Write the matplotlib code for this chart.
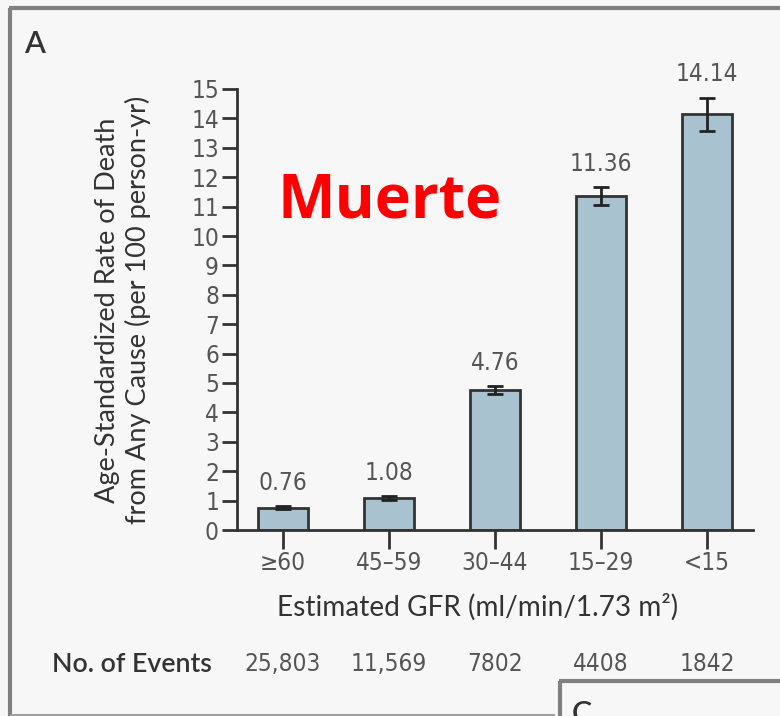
import matplotlib
matplotlib.use("Agg")
import matplotlib.pyplot as plt
from matplotlib import font_manager as fm
from matplotlib.font_manager import FontProperties
from matplotlib.lines import Line2D

# ---- data ----
gfr_groups = ["\u226560", "45\u201359", "30\u201344", "15\u201329", "<15"]
death_rate = [0.76, 1.08, 4.76, 11.36, 14.14]
rate_err = [0.05, 0.07, 0.13, 0.30, 0.57]
rate_labels = ["0.76", "1.08", "4.76", "11.36", "14.14"]
events = ["25,803", "11,569", "7802", "4408", "1842"]
y_ticks = list(range(0, 16))

# ---- fonts ----
def condensed_font():
    for f in fm.fontManager.ttflist:
        if f.fname.endswith("DejaVuSansCondensed.ttf"):
            return f.fname
    return None

cond_path = condensed_font()
if cond_path:
    num_font = FontProperties(fname=cond_path, size=17.5)
else:
    num_font = FontProperties(family="DejaVu Sans", size=15.5)

avail = {f.name for f in fm.fontManager.ttflist}
label_family = "Lato" if "Lato" in avail else "DejaVu Sans"


def bold_family(candidates):
    for name in candidates:
        for f in fm.fontManager.ttflist:
            w = f.weight if isinstance(f.weight, int) else 400
            if f.name == name and w >= 700 and f.style == "normal":
                return name
    return "DejaVu Sans"


title_family = bold_family(["Open Sans", "Noto Sans", "Lato", "Roboto"])
title_size = 44 if title_family != "DejaVu Sans" else 40

BG = "#f7f7f7"
DARK = "#333333"
GRAY = "#555555"
BAR = "#a9c2cf"

fig = plt.figure(figsize=(7.8, 7.16), dpi=100, facecolor=BG)
W, H = 780, 716


def fx(px):
    return px / W


def fy(py):
    return 1 - py / H


ax = fig.add_axes([fx(237), fy(530), fx(753) - fx(237), fy(89) - fy(530)])
ax.set_facecolor(BG)

x = list(range(len(gfr_groups)))
ax.bar(x, death_rate, width=0.47, color=BAR, edgecolor=DARK, linewidth=2.0, zorder=2)
ax.errorbar(x, death_rate, yerr=rate_err, fmt="none", ecolor="#222222",
            elinewidth=2.0, capsize=6, capthick=2.0, zorder=3)

for xi, v, e, lab in zip(x, death_rate, rate_err, rate_labels):
    ax.annotate(lab, (xi, v + e), xytext=(0, 17), textcoords="offset points",
                ha="center", va="center", color=GRAY, fontproperties=num_font,
                annotation_clip=False)

ax.set_xlim(-0.434, len(gfr_groups) - 1 + 0.434)
ax.set_ylim(0, 15)
ax.set_yticks(y_ticks)
ax.set_yticklabels([str(t) for t in y_ticks])
ax.set_xticks(x)
ax.set_xticklabels(gfr_groups)
for lbl in ax.get_yticklabels() + ax.get_xticklabels():
    lbl.set_fontproperties(num_font)
    lbl.set_color(GRAY)

ax.tick_params(axis="y", direction="out", length=11, width=2, color=DARK, pad=2)
ax.tick_params(axis="x", direction="out", length=14, width=2, color=DARK, pad=1)
for side in ("top", "right"):
    ax.spines[side].set_visible(False)
for side in ("left", "bottom"):
    ax.spines[side].set_linewidth(2.0)
    ax.spines[side].set_color(DARK)

# axis titles
fig.text(fx(123), fy(310),
         "Age-Standardized Rate of Death\nfrom Any Cause (per 100 person-yr)",
         rotation=90, ha="center", va="center", multialignment="center",
         family=label_family, fontsize=19.5, color=DARK, linespacing=1.2)
fig.text(fx(478), fy(607), "Estimated GFR (ml/min/1.73 m\u00b2)",
         ha="center", va="center", family=label_family, fontsize=20.2,
         color=DARK)

# events row
fig.text(fx(52), fy(664), "No. of Events", ha="left", va="center",
         family=label_family, fontsize=19.3, fontweight="semibold", color=DARK)
for xi, ev in zip(x, events):
    ax.annotate(ev, (xi, 0), xycoords=("data", "axes fraction"),
                xytext=(0, -(664 - 530) * 72 / 100), textcoords="offset points",
                ha="center", va="center", color=GRAY, fontproperties=num_font,
                annotation_clip=False)

# overlay word
fig.text(fx(390), fy(202), "Muerte", ha="center", va="center",
         family=title_family, fontweight="bold", fontsize=title_size,
         color="#ff0000")

# panel letters
fig.text(fx(24), fy(53), "A", ha="left", va="baseline", family=label_family,
         fontsize=22, fontweight="semibold", color=DARK)
fig.text(fx(572), fy(723), "C", ha="left", va="baseline", family=label_family,
         fontsize=22, fontweight="semibold", color=DARK)

# panel frames
frame = "#808080"
fig.add_artist(Line2D([fx(10), fx(10)], [fy(716), fy(8)], color=frame, lw=3,
                      transform=fig.transFigure, solid_capstyle="butt"))
fig.add_artist(Line2D([fx(8.5), 1.0], [fy(8), fy(8)], color=frame, lw=3,
                      transform=fig.transFigure, solid_capstyle="butt"))
fig.add_artist(Line2D([fx(10), fx(555)], [fy(715), fy(715)], color="#a0a0a0",
                      lw=1.5, transform=fig.transFigure, solid_capstyle="butt"))
fig.add_artist(Line2D([fx(560), fx(560)], [fy(716), fy(681)], color=frame, lw=3,
                      transform=fig.transFigure, solid_capstyle="butt"))
fig.add_artist(Line2D([fx(558.5), 1.0], [fy(681), fy(681)], color=frame, lw=3,
                      transform=fig.transFigure, solid_capstyle="butt"))

fig.savefig("out.png", dpi=100, facecolor=BG)
